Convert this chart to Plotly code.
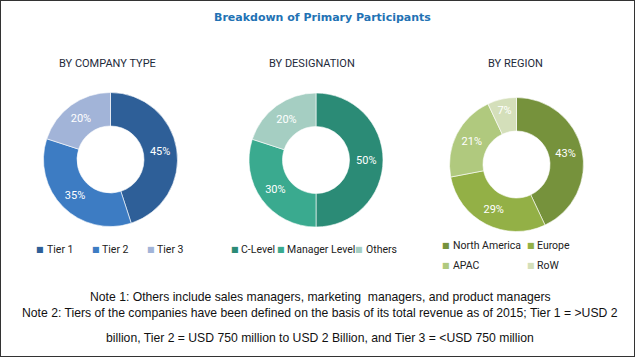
import plotly.graph_objects as go

W, H = 635, 357

# ---- data ----
company_labels = ["Tier 1", "Tier 2", "Tier 3"]
company_values = [45, 35, 20]
company_colors = ["#2E5F98", "#3D7CC3", "#A2B4D8"]

designation_labels = ["C-Level", "Manager Level", "Others"]
designation_values = [50, 30, 20]
designation_colors = ["#2B8B76", "#3AAA8F", "#A5CEC2"]

region_labels = ["North America", "Europe", "APAC", "RoW"]
region_values = [43, 29, 21, 7]
region_colors = ["#76923C", "#93B046", "#B0C97E", "#D4DFBA"]

title_text = "Breakdown of Primary Participants"
subtitles = ["BY COMPANY TYPE", "BY DESIGNATION", "BY REGION"]
notes = [
    "Note 1: Others include sales managers, marketing  managers, and product managers",
    "Note 2: Tiers of the companies have been defined on the basis of its total revenue as of 2015; Tier 1 = >USD 2",
    "billion, Tier 2 = USD 750 million to USD 2 Billion, and Tier 3 = <USD 750 million",
]

# ---- layout helpers (pixel -> paper) ----
def px(x):
    return x / W

def py(y):
    return 1 - y / H

def dom(cx, cy, r):
    return dict(x=[px(cx - r), px(cx + r)], y=[py(cy + r), py(cy - r)])

NARROW = "Roboto, Liberation Sans, sans-serif"

fig = go.Figure()
pies = [
    (company_labels, company_values, company_colors, (110.5, 159.5, 67)),
    (designation_labels, designation_values, designation_colors, (316, 160, 67)),
    (region_labels, region_values, region_colors, (516.5, 164.5, 67)),
]
for labels, values, colors, (cx, cy, r) in pies:
    fig.add_trace(go.Pie(
        labels=labels, values=values, hole=0.5, sort=False,
        direction="clockwise", rotation=0,
        marker=dict(colors=colors, line=dict(color="rgba(255,255,255,0.6)", width=1)),
        texttemplate="%{value}%", textposition="inside",
        insidetextorientation="horizontal",
        textfont=dict(color="white", size=11, family=NARROW),
        domain=dom(cx, cy, r), showlegend=False, hoverinfo="label+percent",
    ))

ann = []
ann.append(dict(x=px(322), y=py(17), text="<b>" + title_text + "</b>", showarrow=False,
                font=dict(family="DejaVu Sans, Verdana, sans-serif", size=11, color="#2272B4"),
                xanchor="center", yanchor="middle"))
for sx, s in zip([107, 312, 515], subtitles):
    ann.append(dict(x=px(sx), y=py(63), text=s, showarrow=False,
                    font=dict(family=NARROW, size=11, color="#1E2A3A"),
                    xanchor="center", yanchor="middle"))

# legends (square centre x, label left x, y)
legend_items = [
    (company_labels, company_colors, [(40, 45, 250), (96, 100, 250), (151, 155, 250)]),
    (designation_labels, designation_colors, [(235, 239, 250), (281, 285, 250), (359, 364, 250)]),
    (region_labels, region_colors, [(446, 451, 245), (531, 535, 245), (446, 451, 265), (531, 535, 265)]),
]
for labels, colors, pos in legend_items:
    for lab, col, (sx, lx, ly) in zip(labels, colors, pos):
        ann.append(dict(x=px(sx), y=py(ly), text="■", showarrow=False,
                        font=dict(family="DejaVu Sans, sans-serif", size=8, color=col),
                        xanchor="center", yanchor="middle"))
        ann.append(dict(x=px(lx), y=py(ly), text=lab, showarrow=False,
                        font=dict(family=NARROW, size=10.5, color="#222222"),
                        xanchor="left", yanchor="middle"))

for ny, n in zip([297, 313, 338], notes):
    ann.append(dict(x=px(320), y=py(ny), text=n, showarrow=False,
                    font=dict(family="Liberation Sans, Arial, sans-serif", size=12.2, color="#111111"),
                    xanchor="center", yanchor="middle"))

fig.update_layout(
    width=W, height=H, margin=dict(l=0, r=0, t=0, b=0),
    paper_bgcolor="white", plot_bgcolor="white",
    annotations=ann,
    shapes=[dict(type="rect", xref="paper", yref="paper", x0=0, y0=0, x1=1, y1=1,
                 line=dict(color="#333333", width=2))],
)
fig.write_html("out.html", config={"displayModeBar": False},
               post_script="document.body.style.margin='0';document.body.style.padding='0';")
